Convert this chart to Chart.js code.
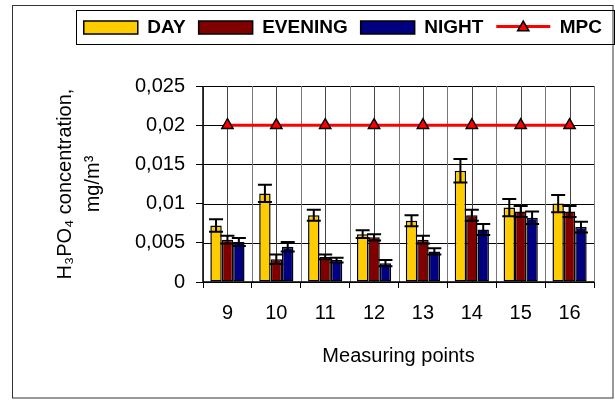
<!DOCTYPE html>
<html>
<head>
<meta charset="utf-8">
<script src="https://cdn.jsdelivr.net/npm/chart.js@4"></script>
<style>
html,body{margin:0;padding:0;background:#fff;}
canvas{display:block;background:#fff;}
</style>
</head>
<body>
<canvas id="c" width="615" height="401"></canvas>
<script>
const categories = ['9', '10', '11', '12', '13', '14', '15', '16'];
const seriesNames = ['DAY', 'EVENING', 'NIGHT', 'MPC'];
const dayValues = [0.0072, 0.0113, 0.0085, 0.0061, 0.0078, 0.0142, 0.0095, 0.0100];
const dayErrors = [0.0008, 0.0011, 0.0007, 0.0005, 0.0007, 0.0015, 0.0011, 0.0011];
const eveningValues = [0.0054, 0.0029, 0.0032, 0.0057, 0.0054, 0.0085, 0.0090, 0.0090];
const eveningErrors = [0.0005, 0.0006, 0.0003, 0.0004, 0.0005, 0.0007, 0.0007, 0.0007];
const nightValues = [0.0051, 0.0045, 0.0028, 0.0024, 0.0039, 0.0067, 0.0082, 0.0070];
const nightErrors = [0.0005, 0.0006, 0.0003, 0.0004, 0.0004, 0.0007, 0.0008, 0.0007];
const mpcValues = [0.02, 0.02, 0.02, 0.02, 0.02, 0.02, 0.02, 0.02];
const yTickLabels = ['0', '0,005', '0,01', '0,015', '0,02', '0,025'];
const xTitle = 'Measuring points';
const yTitle = ['H\u2083PO\u2084 concentration,', 'mg/m\u00B3'];

Chart.defaults.font.family = "'Liberation Sans', Arial, sans-serif";
Chart.defaults.color = '#000';

// Plot-area grid, positioned through the chart's own scales
const plotGrid = {
  id: 'plotGrid',
  beforeDatasetsDraw(chart) {
    const ctx = chart.ctx;
    const a = chart.chartArea;
    const xs = chart.scales.x, ys = chart.scales.y;
    ctx.save();
    ctx.lineWidth = 1;
    ctx.strokeStyle = '#000';
    ys.ticks.forEach(t => {
      const py = Math.round(ys.getPixelForValue(t.value)) + 0.5;
      ctx.beginPath(); ctx.moveTo(a.left, py); ctx.lineTo(a.right, py); ctx.stroke();
    });
    ctx.strokeStyle = '#777';
    for (let i = 0; i <= categories.length; i++) {
      const px = Math.round(xs.getPixelForValue(i - 0.5)) + 0.5;
      ctx.beginPath(); ctx.moveTo(px, a.top); ctx.lineTo(px, a.bottom); ctx.stroke();
    }
    ctx.strokeStyle = '#444';
    for (let i = 0; i < categories.length; i++) {
      const px = Math.round(xs.getPixelForValue(i)) + 0.5;
      ctx.beginPath(); ctx.moveTo(px, a.top); ctx.lineTo(px, a.bottom); ctx.stroke();
    }
    ctx.strokeStyle = '#000';
    ctx.lineWidth = 1.5;
    ctx.beginPath();
    ctx.moveTo(a.left, a.top); ctx.lineTo(a.left, a.bottom); ctx.lineTo(a.right, a.bottom);
    ctx.stroke();
    ctx.restore();
  }
};

const frame = {
  id: 'frame',
  beforeDraw(chart) {
    const ctx = chart.ctx;
    ctx.save();
    ctx.strokeStyle = '#333';
    ctx.lineWidth = 1;
    ctx.strokeRect(12.5, 5.5, 600.5, 392.5);
    ctx.restore();
  },
  afterDraw(chart) {
    const ctx = chart.ctx;
    const lg = chart.legend;
    const hb = lg.legendHitBoxes;
    if (!hb || !hb.length) return;
    ctx.save();
    const top = hb[0].top - 8;
    const bottom = hb[0].top + hb[0].height + 7;
    const left = hb[0].left - 8;
    ctx.strokeStyle = '#000';
    ctx.lineWidth = 1;
    ctx.strokeRect(Math.round(left) + 0.5, Math.round(top) + 0.5, chart.width - Math.round(left) - 1, Math.round(bottom - top));
    const h = hb[3];
    const bw = lg.options.labels.boxWidth;
    const cy = h.top + h.height / 2 - 1;
    ctx.strokeStyle = '#ff0000';
    ctx.lineWidth = 3;
    ctx.beginPath();
    ctx.moveTo(h.left, cy);
    ctx.lineTo(h.left + bw, cy);
    ctx.stroke();
    const cx = h.left + bw / 2;
    const r = 6.5;
    ctx.beginPath();
    ctx.moveTo(cx, cy + 1 - r);
    ctx.lineTo(cx + r * Math.sin(2 * Math.PI / 3), cy + 1 - r * Math.cos(2 * Math.PI / 3));
    ctx.lineTo(cx + r * Math.sin(4 * Math.PI / 3), cy + 1 - r * Math.cos(4 * Math.PI / 3));
    ctx.closePath();
    ctx.fillStyle = '#ff0000';
    ctx.fill();
    ctx.strokeStyle = '#000';
    ctx.lineWidth = 1.5;
    ctx.stroke();
    ctx.restore();
  }
};

const errorBars = {
  id: 'errorBars',
  afterDatasetsDraw(chart) {
    const y = chart.scales.y;
    const ctx = chart.ctx;
    ctx.save();
    ctx.strokeStyle = '#000';
    ctx.lineWidth = 2;
    chart.data.datasets.forEach((ds, i) => {
      if (!ds.errors) return;
      const meta = chart.getDatasetMeta(i);
      meta.data.forEach((bar, j) => {
        const v = ds.data[j], e = ds.errors[j];
        const yt = y.getPixelForValue(v + e);
        const yb = y.getPixelForValue(v - e);
        const x = bar.x, hw = 7;
        ctx.beginPath();
        ctx.moveTo(x, yt); ctx.lineTo(x, yb);
        ctx.moveTo(x - hw, yt); ctx.lineTo(x + hw, yt);
        ctx.moveTo(x - hw, yb); ctx.lineTo(x + hw, yb);
        ctx.stroke();
      });
    });
    ctx.restore();
  }
};

const barCommon = {
  type: 'bar',
  borderColor: '#000',
  borderWidth: 1.5,
  borderSkipped: false,
  categoryPercentage: 0.7,
  barPercentage: 1.0,
  xAxisID: 'x',
  yAxisID: 'y'
};

new Chart(document.getElementById('c'), {
  type: 'bar',
  data: {
    labels: categories,
    datasets: [
      Object.assign({}, barCommon, { label: seriesNames[0], data: dayValues, errors: dayErrors, backgroundColor: '#FFCC00' }),
      Object.assign({}, barCommon, { label: seriesNames[1], data: eveningValues, errors: eveningErrors, backgroundColor: '#800000' }),
      Object.assign({}, barCommon, { label: seriesNames[2], data: nightValues, errors: nightErrors, backgroundColor: '#000080' }),
      {
        type: 'line', label: seriesNames[3], data: mpcValues,
        borderColor: '#ff0000', backgroundColor: '#ff0000', borderWidth: 3, fill: false, tension: 0,
        pointStyle: 'triangle', pointRadius: 6.5, pointBackgroundColor: '#ff0000',
        pointBorderColor: '#000', pointBorderWidth: 1.5, xAxisID: 'x', yAxisID: 'y'
      }
    ]
  },
  options: {
    responsive: false,
    animation: false,
    layout: { padding: { top: 5, left: 20, right: 0, bottom: 0 } },
    plugins: {
      tooltip: { enabled: false },
      title: { display: true, text: '', font: { size: 10, lineHeight: 1 }, padding: { top: 0, bottom: 29 } },
      legend: {
        position: 'top',
        align: 'end',
        weight: 3000,
        labels: {
          boxWidth: 54,
          boxHeight: 13,
          padding: 13,
          color: '#000',
          font: { size: 19, weight: 'bold' },
          generateLabels(chart) {
            const items = Chart.defaults.plugins.legend.labels.generateLabels(chart);
            items.forEach(it => {
              if (it.text === seriesNames[3]) {
                it.fillStyle = 'rgba(0,0,0,0)';
                it.strokeStyle = 'rgba(0,0,0,0)';
                it.lineWidth = 0;
              }
            });
            return items;
          }
        }
      }
    },
    scales: {
      x: {
        type: 'category',
        position: 'bottom',
        offset: true,
        grid: { offset: true, color: '#000', lineWidth: 1, tickLength: 6, drawOnChartArea: false },
        border: { display: false },
        ticks: { font: { size: 20 }, color: '#000', padding: 13 },
        title: { display: true, text: xTitle, font: { size: 20 }, color: '#000', padding: { top: 0, bottom: 33 } },
        afterFit(s) { s.height = 119; }
      },
      y: {
        type: 'linear',
        position: 'left',
        min: 0,
        max: 0.025,
        ticks: {
          stepSize: 0.005,
          callback: (v) => yTickLabels[Math.round(v / 0.005)],
          font: { size: 20 },
          color: '#000',
          padding: 11
        },
        grid: { color: '#000', lineWidth: 1, tickLength: 7, drawOnChartArea: false },
        border: { display: false },
        title: { display: true, text: yTitle, font: { size: 20, lineHeight: 1.4 }, color: '#000', padding: { top: 31, bottom: 0 } },
        afterFit(s) { s.width = 183; }
      },
      yr: {
        type: 'linear',
        position: 'right',
        display: true,
        grid: { drawOnChartArea: false, drawTicks: false },
        ticks: { display: false },
        border: { display: false },
        afterFit(s) { s.width = 21; }
      }
    }
  },
  plugins: [frame, plotGrid, errorBars]
});
</script>
</body>
</html>
